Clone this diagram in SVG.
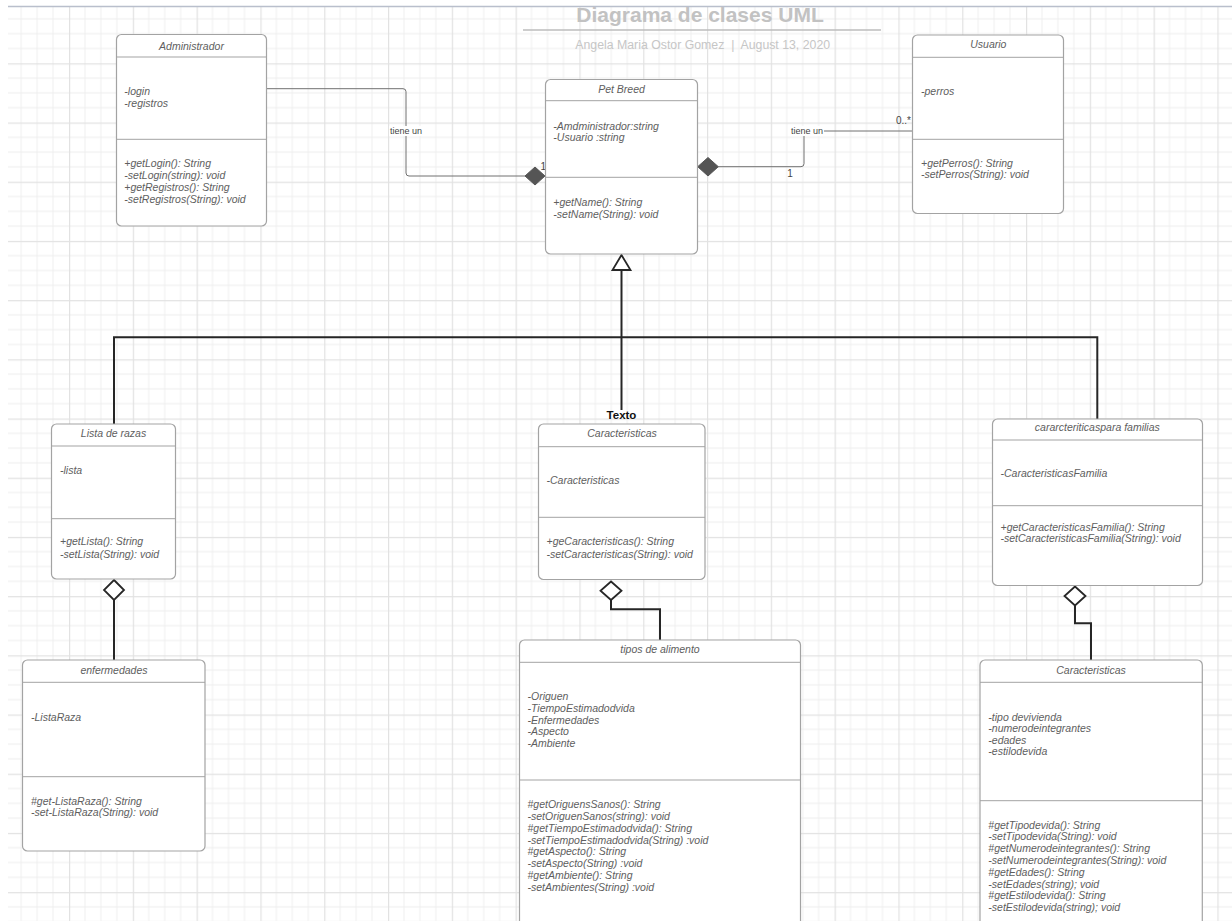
<svg xmlns="http://www.w3.org/2000/svg" width="1232" height="921" viewBox="0 0 1232 921">
<style>
.box{fill:#ffffff;stroke:#a3a3a3;stroke-width:1.2}
.dv{stroke:#a3a3a3;stroke-width:1;fill:none}
.t{font-family:"Liberation Sans",Arial,sans-serif;font-size:10.5px;font-style:italic;fill:#5e5e5e}
.c{text-anchor:middle}
.assoc{fill:none;stroke:#707070;stroke-width:1}
.gen{fill:none;stroke:#262626;stroke-width:2}
.hol{fill:#ffffff;stroke:#262626;stroke-width:1.8}
.fil{fill:#555555;stroke:#555555;stroke-width:1}
.lbl{font-family:"Liberation Sans",Arial,sans-serif;font-size:9px;fill:#444444}
.num{font-family:"Liberation Sans",Arial,sans-serif;font-size:10px;fill:#444444}
</style>
<defs>
<pattern id="grid" patternUnits="userSpaceOnUse" x="5.2" y="4.1" width="63.8" height="59.2">
<rect x="0" y="0" width="63.8" height="59.2" fill="#ffffff"/>
<rect x="15.45" y="0" width="1" height="59.2" fill="#efefef"/>
<rect x="31.4" y="0" width="1" height="59.2" fill="#efefef"/>
<rect x="47.35" y="0" width="1" height="59.2" fill="#efefef"/>
<rect x="0" y="14.3" width="63.8" height="1" fill="#efefef"/>
<rect x="0" y="29.1" width="63.8" height="1" fill="#efefef"/>
<rect x="0" y="43.9" width="63.8" height="1" fill="#efefef"/>
<rect x="0" y="0" width="63.8" height="1.2" fill="#e2e2e2"/>
<rect x="0" y="0" width="1.2" height="59.2" fill="#e2e2e2"/>
</pattern>
</defs>
<rect x="0" y="0" width="1232" height="921" fill="#ffffff"/>
<rect x="8" y="7" width="1224" height="914" fill="url(#grid)"/>
<line x1="8" y1="6.5" x2="1232" y2="6.5" stroke="#b9bfcc" stroke-width="1.5"/>

<g id="header">
<text x="700" y="21.7" font-family="Liberation Sans,Arial,sans-serif" font-size="21" font-weight="bold" fill="#c2c2c2" text-anchor="middle">Diagrama de clases UML</text>
<line x1="523" y1="30" x2="881" y2="30" stroke="#bdbdbd" stroke-width="1.5"/>
<text x="702.7" y="49.3" font-family="Liberation Sans,Arial,sans-serif" font-size="12.3" fill="#c6c6c6" text-anchor="middle" xml:space="preserve" style="white-space:pre">Angela Maria Ostor Gomez  |  August 13, 2020</text>
</g>

<g id="connectors">
<path class="assoc" d="M266.7,88.7 H403 Q406,88.7 406,91.7 V173 Q406,176 409,176 H526"/>
<polygon class="fil" points="525,176 535,167 545,176 535,185"/>
<rect x="389" y="126" width="34" height="10" fill="#ffffff"/>
<text class="lbl c" x="406" y="134.2">tiene un</text>
<text class="num" x="540.5" y="170">1</text>

<polygon class="fil" points="697.7,166.7 708,157.5 718.3,166.7 708,176"/>
<path class="assoc" d="M718,166.7 H801 Q804,166.7 804,163.7 V134 Q804,131 807,131 H912.5"/>
<rect x="790" y="126" width="34" height="10" fill="#ffffff"/>
<text class="lbl c" x="807" y="134.2">tiene un</text>
<text class="num" x="787.3" y="177">1</text>
<text class="num" x="896" y="124">0..*</text>

<path class="gen" d="M621.5,270 V410"/>
<path class="gen" d="M114,424 V337.3 H1097.3 V419"/>
<polygon class="hol" points="621.5,255 612.5,270 630.5,270"/>
<text x="621.5" y="419" font-family="Liberation Sans,Arial,sans-serif" font-size="11.5" font-weight="bold" fill="#111111" text-anchor="middle">Texto</text>

<path class="gen" d="M114,600 V660"/>
<polygon class="hol" points="114,580 124,590 114,600 104,590"/>

<path class="gen" d="M611,600 V609.3 H660 V640"/>
<polygon class="hol" points="611,581.5 621.5,590.8 611,600 600.5,590.8"/>

<path class="gen" d="M1075,605.5 V623.3 H1091 V660"/>
<polygon class="hol" points="1075,586.5 1085.5,596 1075,605.5 1064.5,596"/>
</g>

<g id="administrador">
<rect class="box" x="116.5" y="34.5" width="150" height="191.5" rx="5"/>
<line class="dv" x1="116.5" y1="57" x2="266.5" y2="57"/>
<line class="dv" x1="116.5" y1="139.3" x2="266.5" y2="139.3"/>
<text class="t c" x="191.5" y="49.5">Administrador</text>
<text class="t" x="124.3" y="95.2">-login</text>
<text class="t" x="124.3" y="106.8">-registros</text>
<text class="t" x="124.3" y="166.8">+getLogin(): String</text>
<text class="t" x="124.3" y="179">-setLogin(string): void</text>
<text class="t" x="124.3" y="191.2">+getRegistros(): String</text>
<text class="t" x="124.3" y="203.4">-setRegistros(String): void</text>
</g>

<g id="petbreed">
<rect class="box" x="545.5" y="79.5" width="152" height="174.5" rx="5"/>
<line class="dv" x1="545.5" y1="100.7" x2="697.5" y2="100.7"/>
<line class="dv" x1="545.5" y1="177.3" x2="697.5" y2="177.3"/>
<text class="t c" x="621.5" y="93">Pet Breed</text>
<text class="t" x="553.3" y="130.2">-Amdministrador:string</text>
<text class="t" x="553.3" y="141">-Usuario :string</text>
<text class="t" x="553.3" y="206.2">+getName(): String</text>
<text class="t" x="553.3" y="217.5">-setName(String): void</text>
</g>

<g id="usuario">
<rect class="box" x="912.5" y="35" width="151" height="178.5" rx="5"/>
<line class="dv" x1="912.5" y1="57.3" x2="1063.5" y2="57.3"/>
<line class="dv" x1="912.5" y1="139.3" x2="1063.5" y2="139.3"/>
<text class="t c" x="988.3" y="47.5">Usuario</text>
<text class="t" x="921" y="95">-perros</text>
<text class="t" x="921" y="167">+getPerros(): String</text>
<text class="t" x="921" y="178.2">-setPerros(String): void</text>
</g>

<g id="listaderazas">
<rect class="box" x="51.5" y="424" width="124" height="155" rx="5"/>
<line class="dv" x1="51.5" y1="446" x2="175.5" y2="446"/>
<line class="dv" x1="51.5" y1="518.7" x2="175.5" y2="518.7"/>
<text class="t c" x="113.5" y="437.3">Lista de razas</text>
<text class="t" x="60" y="473.5">-lista</text>
<text class="t" x="60" y="545.2">+getLista(): String</text>
<text class="t" x="60" y="557.5">-setLista(String): void</text>
</g>

<g id="enfermedades">
<rect class="box" x="22.5" y="660" width="182.5" height="191" rx="5"/>
<line class="dv" x1="22.5" y1="682.3" x2="205" y2="682.3"/>
<line class="dv" x1="22.5" y1="776.7" x2="205" y2="776.7"/>
<text class="t c" x="114" y="673.5">enfermedades</text>
<text class="t" x="31" y="720.8">-ListaRaza</text>
<text class="t" x="31" y="805.2">#get-ListaRaza(): String</text>
<text class="t" x="31" y="816.2">-set-ListaRaza(String): void</text>
</g>

<g id="caracteristicas">
<rect class="box" x="538.5" y="424" width="166.5" height="155.5" rx="5"/>
<line class="dv" x1="538.5" y1="446.7" x2="705" y2="446.7"/>
<line class="dv" x1="538.5" y1="517.3" x2="705" y2="517.3"/>
<text class="t c" x="622" y="437">Caracteristicas</text>
<text class="t" x="546.5" y="484.2">-Caracteristicas</text>
<text class="t" x="546.5" y="545.2">+geCaracteristicas(): String</text>
<text class="t" x="546.5" y="557.5">-setCaracteristicas(String): void</text>
</g>

<g id="tiposdealimento">
<rect class="box" x="519.5" y="640" width="281" height="300" rx="5"/>
<line class="dv" x1="519.5" y1="662.3" x2="800.5" y2="662.3"/>
<line class="dv" x1="519.5" y1="780" x2="800.5" y2="780"/>
<text class="t c" x="660" y="653">tipos de alimento</text>
<text class="t" x="527.5" y="700.2">-Origuen</text>
<text class="t" x="527.5" y="711.9">-TiempoEstimadodvida</text>
<text class="t" x="527.5" y="723.6">-Enfermedades</text>
<text class="t" x="527.5" y="735.3">-Aspecto</text>
<text class="t" x="527.5" y="747.2">-Ambiente</text>
<text class="t" x="527.5" y="807.8">#getOriguensSanos(): String</text>
<text class="t" x="527.5" y="819.7">-setOriguenSanos(string): void</text>
<text class="t" x="527.5" y="831.6">#getTiempoEstimadodvida(): String</text>
<text class="t" x="527.5" y="843.5">-setTiempoEstimadodvida(String) :void</text>
<text class="t" x="527.5" y="855.4">#getAspecto(): String</text>
<text class="t" x="527.5" y="867.3">-setAspecto(String) :void</text>
<text class="t" x="527.5" y="879.2">#getAmbiente(): String</text>
<text class="t" x="527.5" y="891.1">-setAmbientes(String) :void</text>
</g>

<g id="caracteristicasfamilias">
<rect class="box" x="992.5" y="419" width="210" height="166.5" rx="5"/>
<line class="dv" x1="992.5" y1="440" x2="1202.5" y2="440"/>
<line class="dv" x1="992.5" y1="505.7" x2="1202.5" y2="505.7"/>
<text class="t c" x="1097.3" y="431.2">cararcteriticaspara familias</text>
<text class="t" x="1000.5" y="476.8">-CaracteristicasFamilia</text>
<text class="t" x="1000.5" y="530.5">+getCaracteristicasFamilia(): String</text>
<text class="t" x="1000.5" y="541.8">-setCaracteristicasFamilia(String): void</text>
</g>

<g id="caracteristicas2">
<rect class="box" x="980" y="660" width="222.3" height="300" rx="5"/>
<line class="dv" x1="980" y1="682.3" x2="1202.3" y2="682.3"/>
<line class="dv" x1="980" y1="800.7" x2="1202.3" y2="800.7"/>
<text class="t c" x="1091" y="673.5">Caracteristicas</text>
<text class="t" x="988.3" y="720.8">-tipo devivienda</text>
<text class="t" x="988.3" y="732.3">-numerodeintegrantes</text>
<text class="t" x="988.3" y="743.8">-edades</text>
<text class="t" x="988.3" y="755.3">-estilodevida</text>
<text class="t" x="988.3" y="828.5">#getTipodevida(): String</text>
<text class="t" x="988.3" y="840.3">-setTipodevida(String): void</text>
<text class="t" x="988.3" y="852.1">#getNumerodeintegrantes(): String</text>
<text class="t" x="988.3" y="863.9">-setNumerodeintegrantes(String): void</text>
<text class="t" x="988.3" y="875.7">#getEdades(): String</text>
<text class="t" x="988.3" y="887.5">-setEdades(string); void</text>
<text class="t" x="988.3" y="899.3">#getEstilodevida(): String</text>
<text class="t" x="988.3" y="911.1">-setEstilodevida(string); void</text>
</g>
</svg>
